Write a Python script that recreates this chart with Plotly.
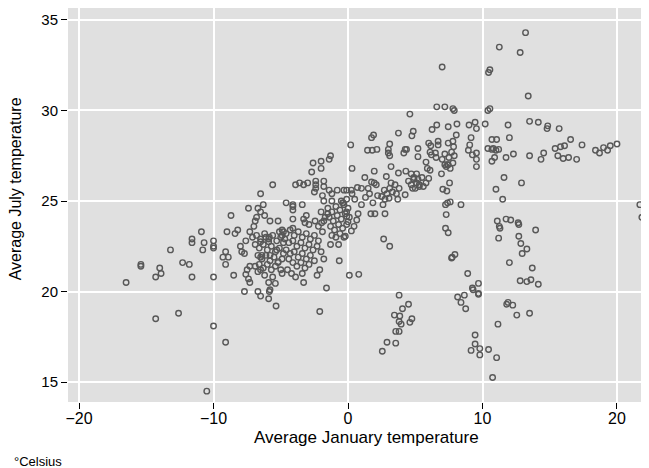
import plotly.graph_objects as go

# ----------------------------------------------------------------------------
# average January / July temperatures (Celsius)
jan_temp = [
    # far west / cold january
    -10.9, -11.6, -11.6, -10.7, -10.8, -10.0, -10.0, -13.2, -15.4, -15.4, -14.0,
    -13.9, -14.3, -12.3, -11.8, -11.6, -10.0, -16.5, -14.3, -12.6, -10.0, -10.5,
    # upper middle left
    0.2, 0.3, -1.3, -1.4, -2.0, -2.6, -2.0, -2.7, -5.6, -6.5, -3.9, -3.6, -3.3,
    -3.0, -2.4, -2.4, -2.4, -2.5, -1.8, -1.8, -1.9, -1.4, -1.2, -0.8, -0.3, -0.1,
    0.3, -1.8, -1.2, -0.35, -0.5, -4.6, -4.1, -3.4, -6.3,
    # left cluster
    -7.4, -6.7, -6.5, -6.2, -8.7, -6.8, -5.8, -5.2, -6.9, -7.0, -9.0, -8.4, -8.2,
    -7.3, -7.1, -7.6, -6.5, -6.1, -5.85, -5.9, -5.1, -4.9, -10.0, -8.0, -7.7,
    -7.9, -9.1, -9.3, -8.9, -9.1, -6.4, -6.5, -5.8, -5.3, -5.2, -7.3, -6.9, -7.5,
    -7.6, -7.4, -7.3, -6.7, -6.5, -8.5, -4.9, -5.9, -5.4, -5.8, -7.7, -6.7, -6.5,
    # centre cluster edges
    -4.1, -4.1, -4.1, -3.3, -3.1, -3.2, -2.9, -2.45, -1.96, -1.7, -1.5, -4.1,
    -4.8, -0.7, -1.3, -1.8, -0.65, -2.1, -2.3, -3.4, -3.3, -1.6, 0.1,
    # lower middle left
    -5.35, -2.1, -9.1, -5.9, -5.85,
    # dense blob A
    -6.8, -6.5, -6.2, -5.9, -5.6, -5.3, -5.0, -4.8, -6.9, -6.6, -6.3, -6.0, -5.7,
    -5.4, -5.1, -4.8, -6.7, -6.4, -6.1, -5.8, -5.5, -5.2, -4.9, -6.6, -6.3, -6.0,
    -5.7, -5.4, -5.0, -6.2, -5.6,
    # dense blob B
    -4.9, -4.6, -4.3, -4.0, -3.7, -3.4, -3.1, -2.8, -2.5, -2.2, -4.7, -4.4, -4.1,
    -3.8, -3.5, -3.2, -2.9, -2.6, -2.3, -2.0, -4.6, -4.3, -4.0, -3.7, -3.4, -3.1,
    -2.8, -2.5, -4.4, -4.1, -3.8, -3.5, -3.2, -2.9, -4.5, -4.2, -3.9,
    # dense blob C
    -1.5, -1.2, -0.9, -0.6, -0.3, 0.0, -0.4, -0.1, -1.4, -1.1, -0.8, -0.5, -0.2,
    0.1, -1.3, -1.0, -0.7, -0.4, -0.1, -1.2, -0.9, -0.6, -0.3, -2.0, -1.8, -2.2,
    -1.9,
    # top middle
    7.0, 6.6, 7.2, 7.8, 13.2, 11.25, 12.8, 10.55, 10.45,
    # right upper
    13.4, 10.55, 10.4, 10.2, 11.9, 13.5, 14.15, 14.85, 14.8, 15.7, 10.7, 11.05,
    12.0, 10.4, 10.8, 11.0, 11.2, 10.7, 12.3, 11.75, 10.9, 10.7, 13.5, 14.35,
    14.55, 15.4, 15.8, 16.1, 15.6, 16.0, 16.4, 17.0, 16.55, 17.4, 18.4, 18.7,
    19.0, 19.3, 19.5, 20.0, 11.6, 12.9, 11.0, 11.5, 21.7, 22.3,
    # right lower
    21.85, 11.1, 11.75, 12.1, 12.65, 12.7, 11.25, 11.3, 13.95, 11.2, 12.7, 12.85,
    13.3, 12.95, 12.0, 13.7, 12.8, 13.3, 13.6, 14.15, 11.8, 11.9, 12.25, 12.55,
    13.5, 11.15, 11.05, 10.75,
    # middle lower
    3.8, 4.5, 4.05, 3.45, 3.85, 3.8, 3.95, 4.75, 4.6, 3.55, 3.8, 2.9, 3.55, 2.55,
    8.15, 8.65, 8.4, 8.75, 9.7, 9.3, 9.45, 9.45, 9.15, 9.8, 9.8, 10.45,
    # middle
    1.85, 2.6, 2.75, 3.05, 3.7, 4.25, 1.7, 2.0, 2.75, 7.25, 7.6, 8.4, 7.3, 7.25,
    7.45, 2.65, 3.1, 7.95, 7.7, 7.75, 0.8, 8.9, 9.7, 9.25, 9.7, -0.1, -0.1, 0.75,
    0.65, 0.45, 0.25, 0.0, -0.2,
    # middle upper
    4.6, 3.75, 4.85, 4.75, 1.9, 1.75, 1.45, 1.8, 2.15, 3.1, 3.0, 3.0, 3.1, 4.25,
    4.35, 4.15, 5.2, 5.2, 1.95, 3.2, 1.25, 1.75, 1.95, 2.1, 2.85, 3.75, 4.3, 4.7,
    5.1, 0.25, 0.7, 1.0, 1.5, 2.5,
    7.9, 6.25, 6.6, 7.45, 8.1, 9.0, 9.45, 9.55, 8.05, 6.0, 6.15, 6.7, 6.7, 7.45,
    7.8, 7.85, 9.15, 8.95, 9.05, 9.25, 9.55, 9.55, 9.55, 6.1, 6.2, 6.5, 6.55,
    7.45, 7.2, 7.6, 5.8, 5.9, 6.1, 6.0, 6.95, 7.55, 7.05, 7.35, 7.4,
    # small clusters
    2.9, 3.1, 3.3, 3.5, 3.6, 3.8, 3.2, 2.7, 4.5, 4.7, 4.9, 5.1, 4.8, 5.3,
    7.0, 7.2, 7.4, 7.5, 7.7, 7.8, 7.3, 7.9, 4.9, 5.2, 5.5, 5.3, 5.6, 5.0, 5.8,
    0.5, 1.0, 1.3, 1.6, 2.2,
]

jul_temp = [
    # far west / cold january
    23.3, 22.9, 22.7, 22.7, 22.3, 22.8, 22.4, 22.3, 21.5, 21.4, 21.3,
    21.0, 20.8, 21.6, 21.5, 20.8, 20.8, 20.5, 18.5, 18.8, 18.1, 14.5,
    # upper middle left
    28.1, 26.8, 27.5, 27.3, 27.2, 27.1, 26.8, 26.6, 25.9, 25.4, 25.9, 26.0, 25.9,
    26.0, 26.1, 25.9, 25.7, 25.5, 26.1, 25.8, 25.3, 25.6, 25.4, 25.6, 25.6, 25.6,
    25.4, 25.0, 25.0, 24.9, 25.0, 24.9, 24.8, 24.8, 24.8,
    # left cluster
    24.6, 24.6, 24.4, 24.2, 24.2, 24.1, 23.9, 23.9, 23.9, 23.6, 23.3, 23.2, 23.4,
    23.3, 23.0, 22.8, 22.75, 23.0, 23.0, 22.75, 23.3, 23.1, 22.5, 22.5, 22.1,
    22.2, 22.2, 21.9, 21.9, 21.5, 22.0, 21.9, 22.0, 22.3, 21.65, 21.4, 21.4, 21.2,
    20.95, 20.7, 20.5, 21.1, 21.2, 20.9, 21.0, 20.5, 20.45, 20.1, 20.0, 20.0, 19.75,
    # centre cluster edges
    24.7, 24.5, 24.0, 24.0, 24.2, 23.8, 23.7, 23.9, 23.8, 24.1, 24.3, 23.5,
    23.3, 22.6, 22.6, 21.8, 21.7, 21.2, 20.9, 21.0, 20.5, 20.2, 20.9,
    # lower middle left
    19.2, 18.9, 17.2, 19.6, 20.0,
    # dense blob A
    23.1, 22.9, 23.2, 22.9, 23.1, 22.8, 23.0, 22.7, 22.6, 22.4, 22.6, 22.3, 22.5,
    22.2, 22.4, 22.1, 22.0, 21.8, 22.0, 21.7, 21.9, 21.6, 21.8, 21.5, 21.3, 21.5,
    21.2, 21.4, 21.2, 20.9, 20.8,
    # dense blob B
    23.4, 23.2, 23.4, 23.1, 23.3, 23.0, 23.2, 22.9, 23.1, 22.8, 22.9, 22.7, 22.8,
    22.5, 22.7, 22.4, 22.6, 22.3, 22.5, 22.2, 22.3, 22.1, 22.2, 21.9, 22.1, 21.8,
    22.0, 21.7, 21.8, 21.6, 21.4, 21.6, 21.3, 21.5, 21.2, 21.0, 20.8,
    # dense blob C
    24.6, 24.4, 24.7, 24.5, 24.8, 24.6, 24.9, 25.1, 24.1, 23.9, 24.2, 24.0, 24.3,
    24.1, 23.6, 23.4, 23.7, 23.5, 23.7, 23.1, 23.0, 23.2, 23.0, 24.4, 23.9, 23.6,
    23.3,
    # top middle
    32.4, 30.2, 30.2, 30.1, 34.3, 33.5, 33.2, 32.25, 32.1,
    # right upper
    30.8, 30.1, 30.0, 29.25, 29.2, 29.4, 29.35, 29.15, 29.0, 29.0, 28.4, 28.4,
    28.5, 27.9, 27.9, 27.8, 27.85, 27.85, 27.6, 27.4, 27.4, 27.2, 27.5, 27.3,
    27.65, 27.9, 28.0, 28.05, 27.5, 27.35, 27.4, 27.3, 28.4, 28.1, 27.8, 27.65,
    27.95, 27.8, 28.05, 28.15, 26.3, 26.0, 25.65, 25.1, 24.8, 26.75,
    # right lower
    24.1, 23.9, 24.0, 23.95, 23.8, 23.7, 23.6, 23.5, 23.4, 22.95, 23.05, 22.65,
    22.35, 22.1, 21.6, 21.3, 20.6, 20.55, 20.65, 20.4, 19.3, 19.4, 19.25, 18.7,
    18.8, 18.2, 16.35, 15.25,
    # middle lower
    19.8, 19.3, 19.05, 18.7, 18.65, 18.35, 18.2, 18.5, 18.3, 17.8, 17.8, 17.2,
    17.15, 16.7, 19.7, 19.8, 19.4, 19.05, 19.85, 20.1, 17.6, 17.1, 16.75, 16.85,
    16.5, 16.8,
    # middle
    24.9, 24.8, 25.1, 25.15, 25.1, 25.35, 24.3, 24.3, 24.3, 24.8, 24.95, 24.8,
    24.25, 23.5, 23.25, 22.9, 22.5, 22.05, 21.85, 21.9, 20.95, 21.0, 20.45, 20.2,
    19.9, 24.4, 24.15, 24.3, 23.95, 23.6, 23.35, 23.85, 23.05,
    # middle upper
    29.8, 28.75, 28.85, 28.6, 28.65, 28.5, 27.8, 27.8, 27.85, 28.15, 27.85, 27.65,
    27.5, 27.85, 27.85, 27.65, 27.9, 27.45, 26.65, 26.9, 26.3, 26.05, 26.0, 25.9,
    26.35, 26.55, 26.65, 26.5, 26.5, 25.6, 25.75, 25.7, 25.7, 25.25,
    30.0, 28.95, 29.2, 29.1, 29.25, 29.2, 29.35, 29.0, 28.65, 28.2, 28.05, 28.3,
    28.1, 28.2, 28.3, 28.0, 28.5, 27.8, 28.1, 27.55, 27.65, 27.3, 26.9, 27.7,
    27.55, 27.65, 27.4, 27.0, 27.0, 26.8, 27.15, 26.8, 26.7, 26.25, 26.5, 26.0,
    25.65, 25.55, 24.9,
    # small clusters
    25.4, 25.7, 25.5, 25.9, 25.4, 25.7, 26.0, 25.6, 26.1, 25.9, 26.2, 26.0, 25.7,
    25.8, 27.3, 27.6, 27.0, 27.4, 27.7, 27.1, 26.9, 27.5, 26.3, 26.2, 26.3, 25.9,
    25.8, 25.7, 26.0, 25.1, 24.8, 25.2, 25.4, 25.3,
]

x_ticks = [-20, -10, 0, 10, 20]
y_ticks = [15, 20, 25, 30, 35]

# ----------------------------------------------------------------------------
FONT = "Liberation Sans, Arial, Helvetica, sans-serif"

fig = go.Figure()

fig.add_trace(go.Scatter(
    x=jan_temp,
    y=jul_temp,
    mode="markers",
    marker=dict(symbol="circle-open", size=5.5, color="#585858",
                line=dict(width=1.4, color="#585858")),
    showlegend=False,
    cliponaxis=True,
))

# axes: fixed margins so the plot area sits where the reference has it
fig.update_xaxes(
    range=[-20.82, 22.38],
    tickvals=x_ticks,
    ticks="outside", ticklen=6, tickcolor="black", tickwidth=1,
    showgrid=True, gridcolor="white", gridwidth=1.5,
    zeroline=False, showline=False, automargin=False,
    tickfont=dict(size=16, color="black"),
    ticklabelstandoff=-4,
)
fig.update_yaxes(
    range=[13.9, 35.66],
    tickvals=y_ticks,
    ticks="outside", ticklen=6, tickcolor="black", tickwidth=1,
    showgrid=True, gridcolor="white", gridwidth=1.5,
    zeroline=False, showline=False, automargin=False,
    tickfont=dict(size=15, color="black"),
)

# axis titles and note placed as text
fig.add_annotation(
    text="Average January temperature", xref="paper", yref="paper",
    x=0.513, y=-0.091, xanchor="center", yanchor="middle",
    showarrow=False, font=dict(size=17, color="black"),
)
fig.add_annotation(
    text="Average July temperature", xref="paper", yref="paper",
    x=-0.091, y=0.54, xanchor="center", yanchor="middle", textangle=-90,
    showarrow=False, font=dict(size=16, color="black"),
)
fig.add_annotation(
    text="°Celsius", xref="paper", yref="paper",
    x=-0.097, y=-0.15, xanchor="left", yanchor="middle",
    showarrow=False, font=dict(size=13, color="black"),
)

# the page body adds an 8px offset, so the figure is 8px smaller each way
fig.update_layout(
    width=641, height=460,
    margin=dict(l=60, r=0, t=0, b=66),
    plot_bgcolor="#E0E0E0",
    paper_bgcolor="white",
    font=dict(family=FONT, color="black"),
)

fig.write_html("out.html")
